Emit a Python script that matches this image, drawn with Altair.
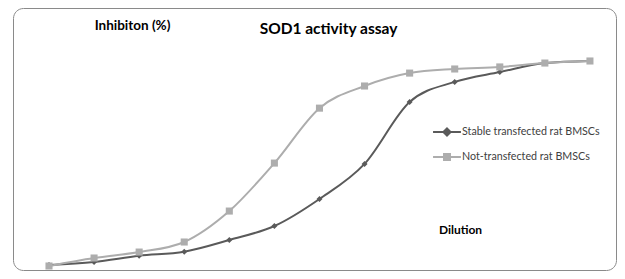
import altair as alt
import pandas as pd

# ---- data ----
dilution_step = list(range(13))
stable_transfected = [0.5, 2, 5, 7, 12.7, 19.5, 32.7, 49.8, 80, 89.8, 94.6, 99, 100]
not_transfected = [0, 3.9, 6.8, 11.7, 26.8, 50.2, 77, 87.8, 94.1, 96.1, 97.1, 99, 100]
series_names = ["Stable transfected rat BMSCs", "Not-transfected rat BMSCs"]
series_colors = ["#5a5a5a", "#adadad"]
point_shapes = ["diamond", "square"]
legend_shapes = [
    "M-1.55,0H1.55M0,-0.4L0.4,0L0,0.4L-0.4,0Z",
    "M-1.55,0H1.55M-0.33,-0.33H0.33V0.33H-0.33Z",
]

rows = []
for name, vals in zip(series_names, [stable_transfected, not_transfected]):
    for i, v in zip(dilution_step, vals):
        rows.append({"step": i, "value": v, "series": name})
df = pd.DataFrame(rows)

FONT = "Lato"
W, H = 603, 262

x_enc = alt.X("step:Q", scale=alt.Scale(domain=[-0.7985, 12.578], nice=False, zero=False),
              axis=alt.Axis(title="Dilution", labels=False, ticks=False, domain=False, grid=False,
                            titleX=447, titleY=-37, titleAlign="center", titleBaseline="alphabetic",
                            titleFont=FONT, titleFontSize=12, titleFontWeight="bold", titleColor="#000000"))
y_enc = alt.Y("value:Q", scale=alt.Scale(domain=[-1.95, 125.85], nice=False, zero=False),
              axis=alt.Axis(title="Inhibiton (%)", labels=False, ticks=False, domain=False, grid=False,
                            titleAngle=0, titleX=119, titleY=21, titleAlign="center", titleBaseline="alphabetic",
                            titleFont=FONT, titleFontSize=13.5, titleFontWeight="bold", titleColor="#000000"))
color_enc = alt.Color("series:N", scale=alt.Scale(domain=series_names, range=series_colors), legend=None)

base = alt.Chart(df)

lines = base.mark_line(interpolate="monotone", strokeWidth=2).encode(
    x=x_enc, y=y_enc, color=color_enc, detail="series:N"
)
points = base.mark_point(filled=True, opacity=1).encode(
    x=x_enc, y=y_enc, color=color_enc,
    shape=alt.Shape("series:N", scale=alt.Scale(domain=series_names, range=point_shapes), legend=None),
    size=alt.Size("series:N", scale=alt.Scale(domain=series_names, range=[36, 50]), legend=None),
)

color_expr = "datum.value == '%s' ? '%s' : '%s'" % (series_names[0], series_colors[0], series_colors[1])
legend_layer = base.transform_filter("false").mark_point(filled=True, opacity=1, size=324).encode(
    x=x_enc, y=y_enc, color=color_enc,
    shape=alt.Shape("series:N", scale=alt.Scale(domain=series_names, range=legend_shapes),
                    legend=alt.Legend(title=None, orient="none", legendX=424, legendY=114,
                                      padding=0, rowPadding=7, labelOffset=5,
                                      symbolSize=324, symbolStrokeWidth=2,
                                      symbolFillColor={"expr": color_expr},
                                      symbolStrokeColor={"expr": color_expr},
                                      labelFont=FONT, labelFontSize=10.7, labelColor="#404040",
                                      labelLimit=300)),
)

chart = alt.layer(lines, points, legend_layer).resolve_scale(shape="independent", size="independent").properties(
    width=W, height=H,
    padding={"left": 5, "top": 0, "right": 1, "bottom": 1},
    autosize="none",
    background="white",
    title=alt.TitleParams("SOD1 activity assay", anchor="middle", dx=14, dy=41, offset=0,
                          baseline="alphabetic", font=FONT, fontSize=15.5, fontWeight="bold",
                          color="#000000"),
).configure_view(stroke="#8a8a8a", strokeWidth=1, cornerRadius=10)

chart.save("out.html", embed_options={"renderer": "svg", "actions": False})
